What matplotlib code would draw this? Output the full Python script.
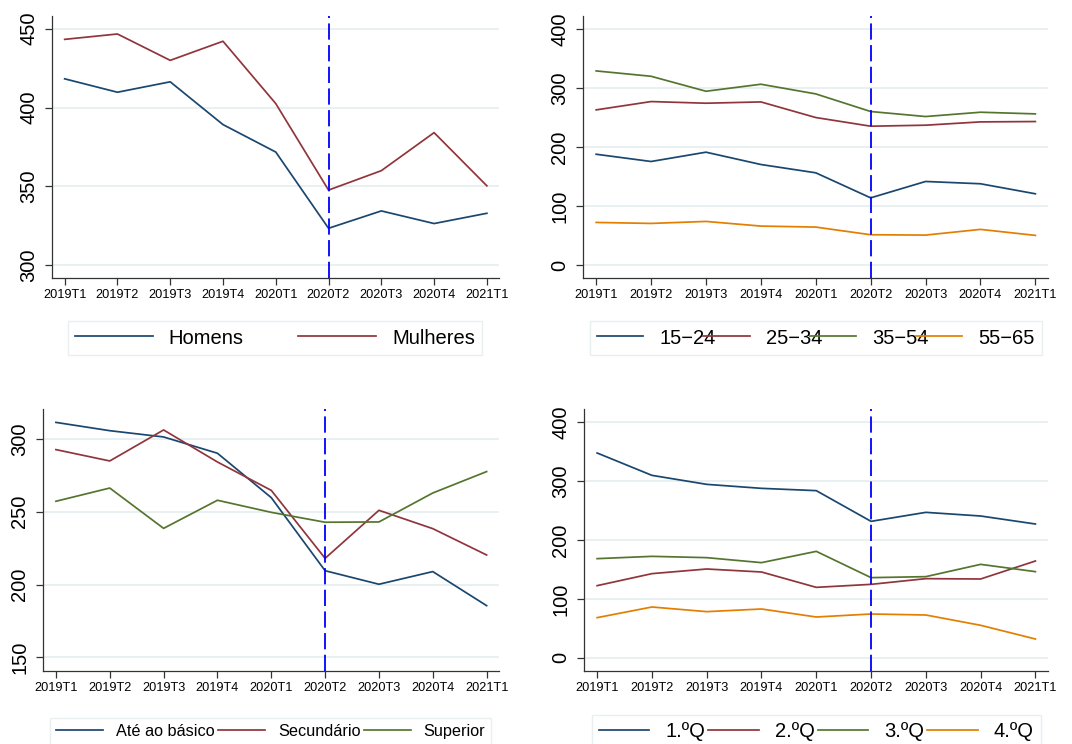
import matplotlib
matplotlib.use("Agg")
import matplotlib.pyplot as plt

plt.rcParams['font.family'] = ['Liberation Sans', 'DejaVu Sans']

quarters = ["2019T1", "2019T2", "2019T3", "2019T4", "2020T1",
            "2020T2", "2020T3", "2020T4", "2021T1"]

# Sexo
homens = [418.2, 409.7, 416.3, 389.2, 371.8, 323.5, 334.5, 326.5, 333.0]
mulheres = [443.2, 446.6, 429.9, 442.0, 402.5, 347.7, 360.0, 384.1, 350.4]

# Grupo etário
idade_15_24 = [188.0, 175.7, 191.5, 170.6, 156.5, 114.0, 141.8, 137.9, 120.9]
idade_25_34 = [263.3, 277.4, 274.6, 276.8, 250.3, 235.6, 237.3, 242.9, 243.5]
idade_35_54 = [329.4, 320.3, 294.9, 306.8, 290.4, 260.5, 252.0, 259.3, 256.5]
idade_55_65 = [72.3, 70.6, 74.0, 66.1, 64.4, 51.4, 50.8, 60.5, 50.3]

# Escolaridade
ate_basico = [311.4, 305.7, 301.4, 290.2, 259.7, 209.5, 200.2, 208.9, 185.5]
secundario = [292.7, 284.9, 306.2, 284.2, 264.7, 218.0, 251.0, 238.4, 220.3]
superior = [257.2, 266.3, 238.6, 257.9, 249.6, 242.8, 243.0, 262.9, 277.6]

# Quartis de rendimento
q1 = [347.9, 309.9, 294.6, 287.8, 283.9, 231.7, 247.0, 240.8, 227.2]
q2 = [122.4, 142.8, 150.7, 145.6, 119.5, 124.6, 134.3, 133.7, 164.3]
q3 = [168.3, 172.2, 170.0, 161.5, 180.7, 136.0, 137.7, 158.6, 146.2]
q4 = [68.0, 86.1, 78.2, 82.7, 69.1, 74.2, 72.5, 55.0, 31.7]

break_quarter = "2020T2"

NAVY = "#1a476f"
MAROON = "#90353b"
FOREST = "#55752f"
ORANGE = "#e37e00"
GRID = "#e6eff1"

W, H = 1072, 744
fig = plt.figure(figsize=(W / 100, H / 100), dpi=100)
fig.patch.set_facecolor("white")


def px_axes(left, top, right, bottom):
    return fig.add_axes([left / W, 1 - bottom / H, (right - left) / W, (bottom - top) / H])


def style_panel(ax, yticks, ylim):
    x = range(len(quarters))
    ax.set_xlim(-0.24, 8.23)
    ax.set_ylim(*ylim)
    ax.set_xticks(list(x))
    ax.set_xticklabels(quarters, fontsize=9.2)
    ax.set_yticks(yticks)
    ax.set_yticklabels([str(v) for v in yticks], fontsize=14.5, rotation=90,
                       va="center", ha="right")
    for s in ["top", "right"]:
        ax.spines[s].set_visible(False)
    for s in ["left", "bottom"]:
        ax.spines[s].set_color("#333333")
        ax.spines[s].set_linewidth(0.9)
    ax.tick_params(axis="both", length=5, width=0.9, color="#333333")
    ax.tick_params(axis="y", pad=5)
    ax.tick_params(axis="x", pad=3)
    ax.yaxis.grid(True, color=GRID, linewidth=1.3)
    ax.set_axisbelow(True)
    ax.axvline(quarters.index(break_quarter), color="#0000ff", linewidth=1.3,
               dashes=(9, 3), zorder=3)


def add_legend(ax, left, top, right, bottom, ncol, fs, hl):
    leg = ax.legend(loc="center", ncol=ncol, mode="expand",
                    bbox_to_anchor=(left / W, 1 - bottom / H, (right - left) / W, (bottom - top) / H),
                    bbox_transform=fig.transFigure, fontsize=fs, handlelength=hl,
                    frameon=True, fancybox=False, borderaxespad=0, handletextpad=0.8,
                    columnspacing=0.4, borderpad=0.35)
    leg.get_frame().set_edgecolor("#e4ebee")
    leg.get_frame().set_linewidth(1.0)
    return leg


lw = 1.25
x = list(range(len(quarters)))

# Painel 1: sexo
ax1 = px_axes(52, 16, 499, 278)
ax1.plot(x, homens, color=NAVY, lw=lw, label="Homens")
ax1.plot(x, mulheres, color=MAROON, lw=lw, label="Mulheres")
style_panel(ax1, [300, 350, 400, 450], (292, 458))
add_legend(ax1, 68, 319, 482, 357, 2, 14.5, 3.85)

# Painel 2: grupo etário
ax2 = px_axes(583, 16, 1048, 278)
ax2.plot(x, idade_15_24, color=NAVY, lw=lw, label="15\u221224")
ax2.plot(x, idade_25_34, color=MAROON, lw=lw, label="25\u221234")
ax2.plot(x, idade_35_54, color=FOREST, lw=lw, label="35\u221254")
ax2.plot(x, idade_55_65, color=ORANGE, lw=lw, label="55\u221265")
style_panel(ax2, [0, 100, 200, 300, 400], (-22, 422.6))
add_legend(ax2, 590, 319, 1042, 357, 4, 14.5, 2.3)

# Painel 3: escolaridade
ax3 = px_axes(43, 409, 499, 671)
ax3.plot(x, ate_basico, color=NAVY, lw=lw, label="Até ao básico")
ax3.plot(x, secundario, color=MAROON, lw=lw, label="Secundário")
ax3.plot(x, superior, color=FOREST, lw=lw, label="Superior")
style_panel(ax3, [150, 200, 250, 300], (140.6, 320.6))
add_legend(ax3, 50, 711, 491, 752, 3, 11.7, 2.9)

# Painel 4: quartis de rendimento
ax4 = px_axes(584, 409, 1048, 671)
ax4.plot(x, q1, color=NAVY, lw=lw, label="1.ºQ")
ax4.plot(x, q2, color=MAROON, lw=lw, label="2.ºQ")
ax4.plot(x, q3, color=FOREST, lw=lw, label="3.ºQ")
ax4.plot(x, q4, color=ORANGE, lw=lw, label="4.ºQ")
style_panel(ax4, [0, 100, 200, 300, 400], (-22.7, 422.7))
add_legend(ax4, 592, 711, 1041, 752, 4, 14.5, 2.5)

fig.savefig("out.png", dpi=100, facecolor="white")
